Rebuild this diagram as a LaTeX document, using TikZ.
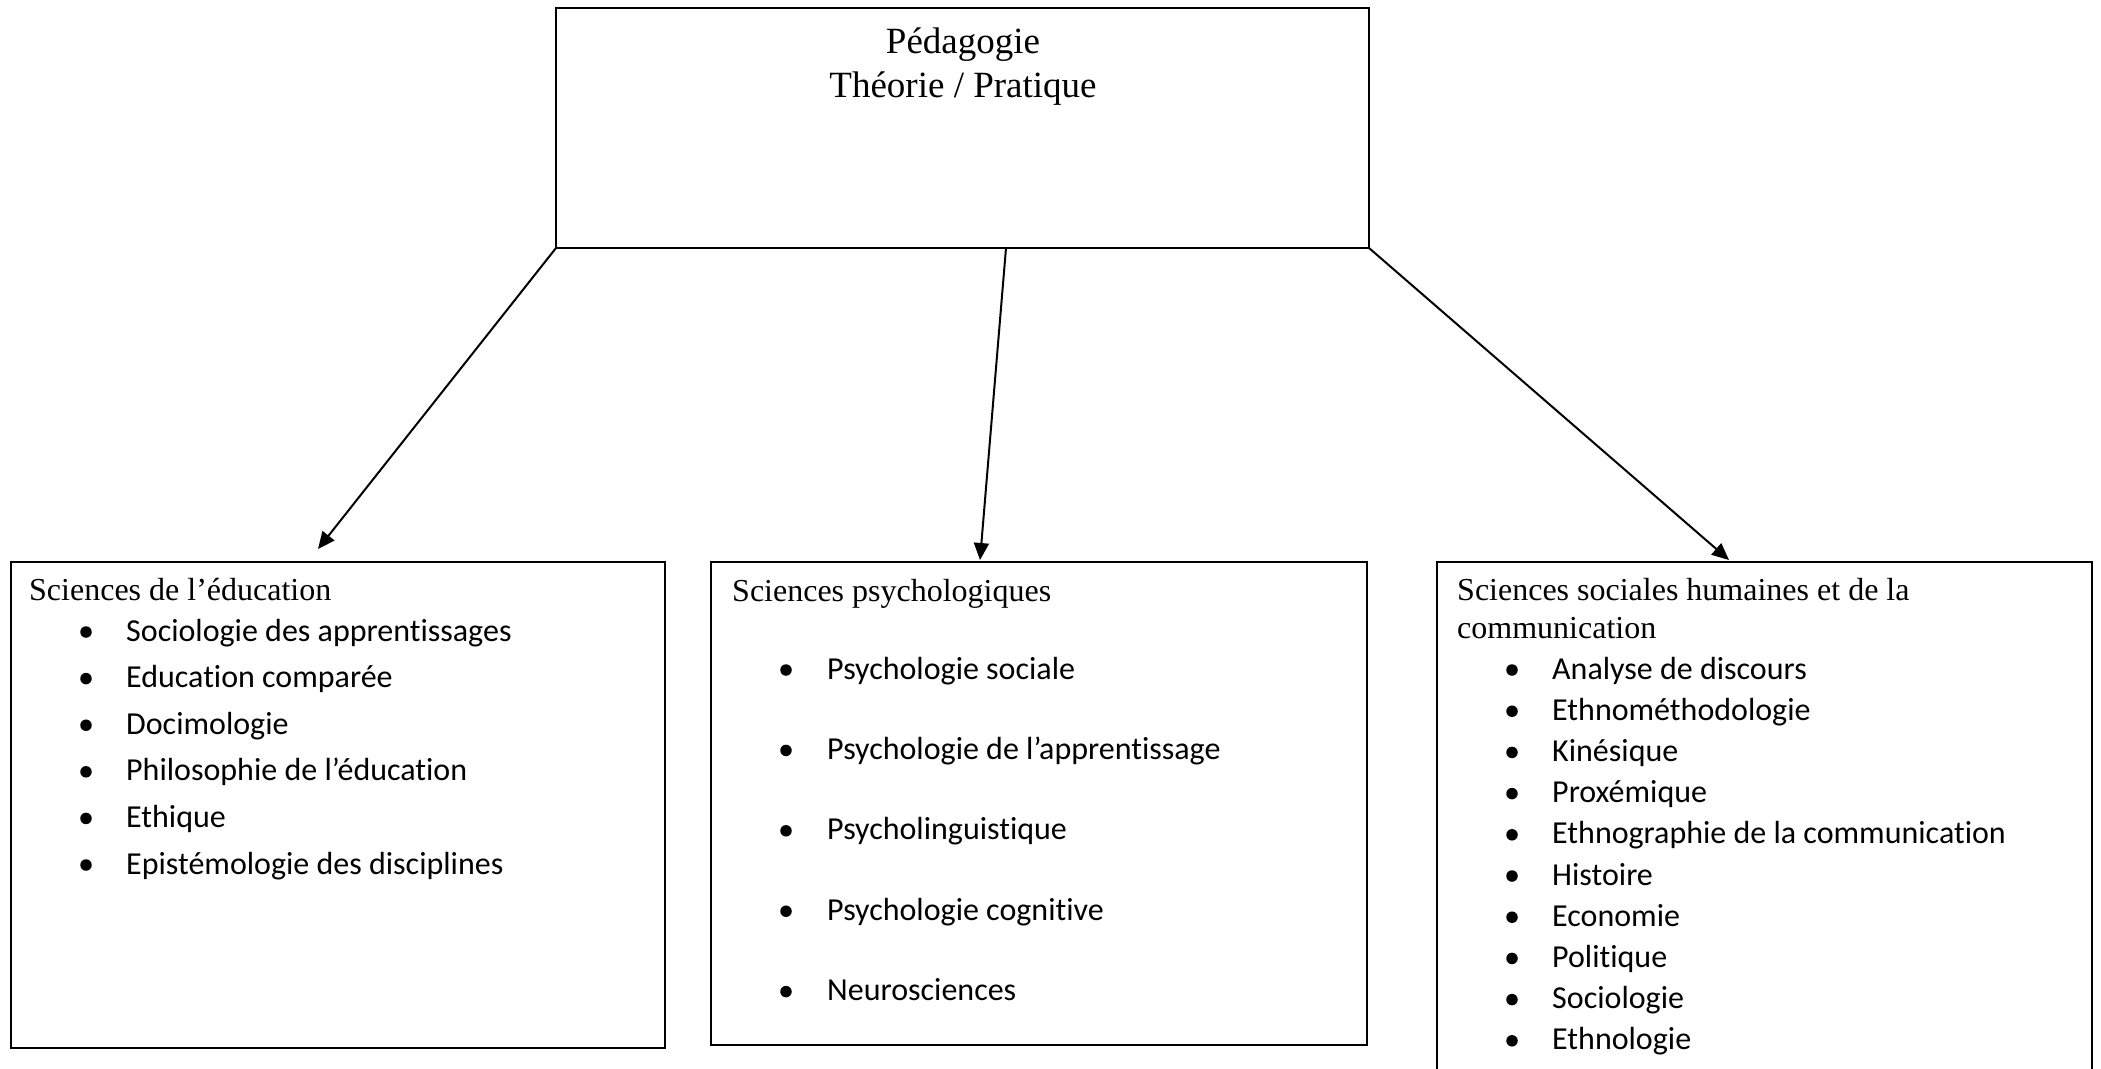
\documentclass[tikz,border=0pt]{standalone}
\usepackage{fontspec}
\setmainfont{Liberation Serif}
\newfontfamily\calfont[Ligatures=NoCommon]{Carlito}
\usetikzlibrary{arrows.meta,calc}
\begin{document}
\begin{tikzpicture}[x=1pt,y=-1pt,
  box/.style={draw, line width=2.6pt, inner sep=0pt, outer sep=0pt, anchor=north west},
  arr/.style={line width=2pt, -{Triangle[length=17pt,width=15pt]}},
  titletext/.style={font=\fontsize{37}{43}\selectfont, anchor=base, inner sep=0pt},
  head/.style={font=\fontsize{32}{37}\selectfont, anchor=base west, inner sep=0pt},
  itemtext/.style={font=\calfont\fontsize{32}{39}\selectfont, anchor=base west, inner sep=0pt},
  dot/.style={circle, fill, inner sep=0pt, minimum size=11.5pt}]
\useasboundingbox[fill=white] (0,0) rectangle (2101,1068);

% boxes
\node[box, minimum width=813pt, minimum height=240pt] (top) at (556,8) {};
\node[box, minimum width=654pt, minimum height=486pt] (edu) at (11,562) {};
\node[box, minimum width=656pt, minimum height=483pt] (psy) at (711,562) {};
\node[box, minimum width=655pt, minimum height=540pt] (soc) at (1437,562) {};

% title
\node[titletext] (ttl1) at (963,53) {Pédagogie};
\node[titletext] (ttl2) at (963,97) {Théorie / Pratique};

% left box
\node[head] (h1) at (29,600) {Sciences de l’éducation};
\foreach \t [count=\i from 0] in {Sociologie des apprentissages, Education comparée, Docimologie, Philosophie de l’éducation, Ethique, Epistémologie des disciplines}{
  \node[itemtext] (a\i) at (126,641+46.6*\i) {\t};
  \node[dot] (ad\i) at (86,632+46.6*\i) {};
}

% middle box
\node[head] (h2) at (732,601) {Sciences psychologiques};
\foreach \t [count=\i from 0] in {Psychologie sociale, Psychologie de l’apprentissage, Psycholinguistique, Psychologie cognitive, Neurosciences}{
  \node[itemtext] (p\i) at (827,679+80.4*\i) {\t};
  \node[dot] (pd\i) at (786,670+80.4*\i) {};
}

% right box
\node[head] (h3a) at (1457,600) {Sciences sociales humaines et de la};
\node[head] (h3b) at (1457,638) {communication};
\foreach \t [count=\i from 0] in {Analyse de discours, Ethnométhodologie, Kinésique, Proxémique, Ethnographie de la communication, Histoire, Economie, Politique, Sociologie, Ethnologie}{
  \node[itemtext] (s\i) at (1552,679+41.2*\i) {\t};
  \node[dot] (sd\i) at (1512,670+41.2*\i) {};
}

% arrows
\coordinate (tipA) at (318,549);
\coordinate (tipB) at (980,560);
\coordinate (tipC) at (1729,560);
\draw[arr] (top.south west) -- (tipA);
\draw[arr] ($(top.south west)!0.5535!(top.south east)$) -- (tipB);
\draw[arr] (top.south east) -- (tipC);
\end{tikzpicture}
\end{document}
